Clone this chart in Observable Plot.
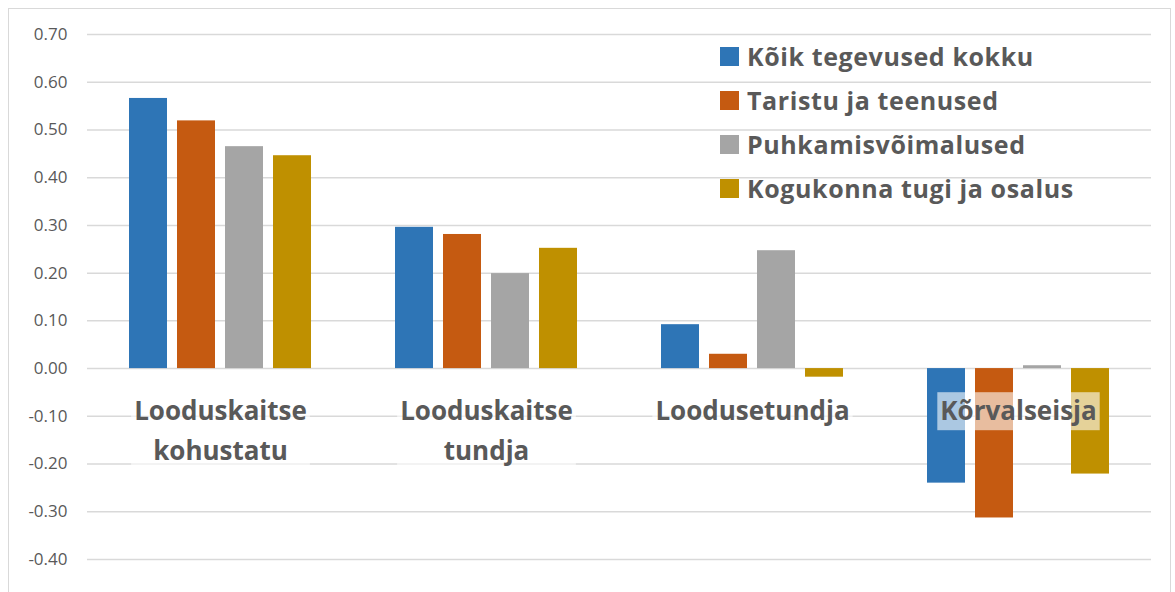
<!DOCTYPE html>
<html><head><meta charset="utf-8">
<script src="https://cdn.jsdelivr.net/npm/d3@7"></script>
<script src="https://cdn.jsdelivr.net/npm/@observablehq/plot@0.6"></script>
<style>
body{margin:0;background:#fff;}
#wrap{position:relative;width:1175px;height:592px;overflow:hidden;font-family:"Open Sans",sans-serif;}
#frame{position:absolute;left:8px;top:8px;width:1163px;height:620px;border:1px solid #d9d9d9;box-sizing:border-box;}
#chart{position:absolute;left:0;top:0;}
#legend{position:absolute;left:720px;top:34px;}
.row{display:flex;align-items:center;height:44px;font-weight:700;font-size:25px;color:#595959;letter-spacing:0.6px;white-space:nowrap;}
.sw{width:19px;height:19px;margin-right:8px;flex:none;}
</style></head><body>
<div id="wrap"><div id="frame"></div><div id="chart"></div><div id="legend"></div></div>
<script>
const categories = ["Looduskaitse\nkohustatu", "Looduskaitse\ntundja", "Loodusetundja", "Kõrvalseisja"];
const series = ["Kõik tegevused kokku", "Taristu ja teenused", "Puhkamisvõimalused", "Kogukonna tugi ja osalus"];
const colors = ["#2E75B6", "#C55A11", "#A5A5A5", "#BF9000"];
const koikTegevused = [0.566, 0.296, 0.092, -0.240];
const taristu = [0.519, 0.281, 0.030, -0.313];
const puhkamis = [0.465, 0.199, 0.247, 0.006];
const kogukond = [0.446, 0.252, -0.018, -0.221];
const yTicks = [-0.4, -0.3, -0.2, -0.1, 0, 0.1, 0.2, 0.3, 0.4, 0.5, 0.6, 0.7];

const seriesValues = [koikTegevused, taristu, puhkamis, kogukond];
const data = [];
categories.forEach((c, i) => series.forEach((s, j) => data.push({category: c, series: s, value: seriesValues[j][i]})));

const chart = Plot.plot({
  width: 1175, height: 592,
  marginLeft: 87, marginRight: 24, marginTop: 34, marginBottom: 33,
  style: {background: "transparent", fontFamily: "Open Sans", fontSize: "17px", color: "#595959"},
  fx: {domain: categories, padding: 0, axis: null},
  x: {domain: series, paddingInner: 0.21, paddingOuter: 0.84, axis: null},
  y: {domain: [-0.4, 0.7], ticks: yTicks, tickFormat: d => d.toFixed(2), tickSize: 0, tickPadding: 20, label: null},
  color: {domain: series, range: colors},
  marks: [
    Plot.ruleY(yTicks, {stroke: "#d9d9d9", strokeWidth: 1.5}),
    Plot.barY(data, {fx: "category", x: "series", y: "value", fill: "series"}),
    Plot.text(categories, {fx: d => d, y: d => 0, text: d => d, lineAnchor: "top", dy: 23,
      fontSize: 26, fontWeight: 700, fill: "#595959", lineHeight: 1.55})
  ]
});
document.getElementById("chart").appendChild(chart);

// semi-transparent white boxes behind category labels
chart.querySelectorAll('g[aria-label="text"] text').forEach(t => {
  const b = t.getBBox();
  const r = document.createElementNS("http://www.w3.org/2000/svg", "rect");
  r.setAttribute("x", b.x - 3); r.setAttribute("y", b.y);
  r.setAttribute("width", b.width + 6); r.setAttribute("height", b.height + 2);
  r.setAttribute("fill", "white"); r.setAttribute("fill-opacity", 0.6);
  if (t.getAttribute("transform")) r.setAttribute("transform", t.getAttribute("transform"));
  t.parentNode.insertBefore(r, t);
});

const legend = document.getElementById("legend");
series.forEach((s, j) => {
  const row = document.createElement("div"); row.className = "row";
  const sw = document.createElement("div"); sw.className = "sw"; sw.style.background = colors[j];
  const lab = document.createElement("span"); lab.textContent = s;
  row.appendChild(sw); row.appendChild(lab); legend.appendChild(row);
});
</script>
</body></html>
